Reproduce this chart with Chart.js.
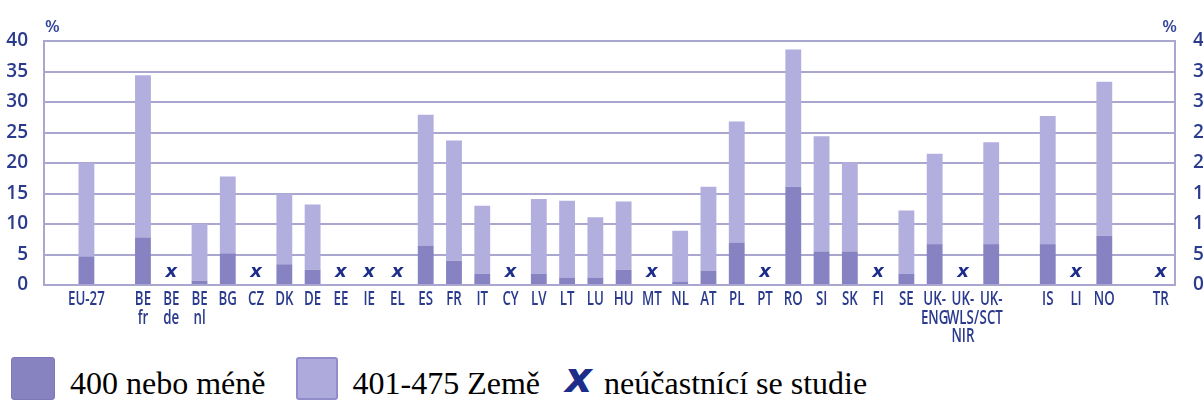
<!DOCTYPE html>
<html>
<head>
<meta charset="utf-8">
<script src="https://cdn.jsdelivr.net/npm/chart.js@4.4.1/dist/chart.umd.min.js"></script>
<style>
    body { margin: 0; background: #ffffff; overflow: hidden; width: 1203px; height: 408px; position: relative; }
    #wrap { position: absolute; left: 0; top: 0; width: 1215px; height: 352px; }
    #legend { position: absolute; left: 11px; top: 357px; display: flex; align-items: flex-end; font-family: "Liberation Serif", "Times New Roman", serif; font-size: 32px; color: #000; white-space: nowrap; }
    .box { width: 44px; height: 43px; border-radius: 3px; box-sizing: border-box; }
    .box.dark { background: #8783c0; border: 1px solid #7d79b8; }
    .box.light { background: #aeabdc; border: 2px solid #918dcb; }
    .lbl { margin-left: 15px; line-height: 34px; }
    .cross { font-family: "DejaVu Sans", sans-serif; font-weight: bold; font-style: italic; color: #1d2d8a; font-size: 42px; line-height: 38px; margin-bottom: 3px; }
</style>
</head>
<body>
<div id="wrap"><canvas id="chart" width="1215" height="352"></canvas></div>
<div id="legend">
    <div class="box dark"></div><span class="lbl">400 nebo méně</span>
    <div class="box light" style="margin-left: 30px; width: 42px;"></div><span class="lbl">401-475 Země</span>
    <span class="cross" style="margin-left: 25px;">x</span><span class="lbl" style="margin-left: 12px;">neúčastnící se studie</span>
</div>
<script>
// categories (empty strings are the gaps between groups)
const countryLabels = [
    '', 'EU-27', '', ['BE', 'fr'], ['BE', 'de'], ['BE', 'nl'], 'BG', 'CZ', 'DK', 'DE',
    'EE', 'IE', 'EL', 'ES', 'FR', 'IT', 'CY', 'LV', 'LT', 'LU',
    'HU', 'MT', 'NL', 'AT', 'PL', 'PT', 'RO', 'SI', 'SK', 'FI',
    'SE', ['UK-', 'ENG'], ['UK-', 'WLS/', 'NIR'], ['UK-', 'SCT'], '', 'IS', 'LI', 'NO', '', 'TR'
];

// share of students scoring 400 or less (dark part)
const below400 = [
    null, 4.7, null, 7.8, null, 0.7, 5.2, null, 3.4, 2.5,
    null, null, null, 6.4, 4.0, 1.8, null, 1.8, 1.2, 1.2,
    2.5, null, 0.5, 2.3, 6.9, null, 16.1, 5.5, 5.5, null,
    1.8, 6.7, null, 6.7, null, 6.7, null, 8.1, null, null
];

// total height of each bar (400 or less + 401-475)
const totalUpTo475 = [
    null, 20.0, null, 34.4, null, 10.0, 17.8, null, 14.9, 13.2,
    null, null, null, 27.9, 23.7, 13.0, null, 14.1, 13.8, 11.1,
    13.7, null, 8.9, 16.1, 26.8, null, 38.6, 24.4, 20.1, null,
    12.2, 21.5, null, 23.4, null, 27.7, null, 33.3, null, null
];

// countries that did not take part (drawn as an x)
const notParticipating = [
    false, false, false, false, true, false, false, true, false, false,
    true, true, true, false, false, false, true, false, false, false,
    false, true, false, false, false, true, false, false, false, true,
    false, false, true, false, false, false, true, false, false, true
];

const yTicks = [0, 5, 10, 15, 20, 25, 30, 35, 40];

const band401to475 = totalUpTo475.map((t, i) => t === null ? null : +(t - below400[i]).toFixed(2));

const axisColor = '#a9a6cf';
const tickColor = '#2a3a8c';
const labelFont = '"Open Sans", "Noto Sans", sans-serif';

// draws the "%" units, the condensed country labels and the x marks
const extrasPlugin = {
    id: 'extras',
    afterDatasetsDraw(chart) {
        const { ctx, chartArea, scales } = chart;
        ctx.save();
        ctx.fillStyle = '#34459a';
        ctx.font = '600 17px ' + labelFont;
        ctx.textBaseline = 'alphabetic';
        ctx.textAlign = 'left';
        ctx.fillText('%', chartArea.left + 1, chartArea.top - 9);
        ctx.textAlign = 'right';
        ctx.fillText('%', chartArea.right + 2, chartArea.top - 9);

        // country labels, squeezed like the condensed face of the original
        ctx.fillStyle = tickColor;
        ctx.font = '600 19px ' + labelFont;
        ctx.textAlign = 'center';
        ctx.textBaseline = 'middle';
        countryLabels.forEach((lab, i) => {
            const lines = Array.isArray(lab) ? lab : [lab];
            const x = scales.x.getPixelForValue(i);
            lines.forEach((line, j) => {
                ctx.save();
                ctx.translate(x, chartArea.bottom + 15 + j * 18.5);
                ctx.scale(0.7, 1);
                ctx.fillText(line, 0, 0);
                ctx.restore();
            });
        });

        ctx.fillStyle = '#1d2d8a';
        ctx.font = 'italic bold 18px "DejaVu Sans", sans-serif';
        const zeroY = scales.y.getPixelForValue(0);
        notParticipating.forEach((flag, i) => {
            if (!flag) return;
            ctx.fillText('x', scales.x.getPixelForValue(i), zeroY - 13);
        });
        ctx.restore();
    }
};

const tickLabel = v => yTicks.includes(v) ? String(v) : '';

new Chart(document.getElementById('chart'), {
    type: 'bar',
    data: {
        labels: countryLabels,
        datasets: [
            {
                label: '400 nebo méně',
                data: below400,
                backgroundColor: '#8782c2',
                barPercentage: 0.56,
                categoryPercentage: 1.0
            },
            {
                label: '401-475 Země',
                data: band401to475,
                backgroundColor: '#b2aedd',
                barPercentage: 0.56,
                categoryPercentage: 1.0
            }
        ]
    },
    options: {
        responsive: false,
        animation: false,
        layout: { padding: { top: 41, left: 0, right: 0, bottom: 0 } },
        plugins: {
            legend: { display: false },
            tooltip: { enabled: false }
        },
        scales: {
            x: {
                stacked: true,
                grid: { display: false, drawTicks: false },
                border: { display: false },
                ticks: { display: false },
                afterFit: s => { s.height = 67; }
            },
            y: {
                stacked: true,
                position: 'left',
                min: 0,
                max: 40,
                grid: { color: axisColor, lineWidth: 2, drawTicks: false },
                border: { display: true, color: axisColor, width: 2 },
                ticks: {
                    stepSize: 5,
                    padding: 16,
                    color: tickColor,
                    font: { family: labelFont, size: 19, weight: '600' },
                    callback: tickLabel
                },
                afterFit: s => { s.width = 44; }
            },
            y2: {
                position: 'right',
                min: 0,
                max: 40,
                grid: { drawOnChartArea: false, drawTicks: false },
                border: { display: true, color: axisColor, width: 2 },
                ticks: {
                    stepSize: 5,
                    padding: 18,
                    color: tickColor,
                    font: { family: labelFont, size: 19, weight: '600' },
                    callback: tickLabel
                },
                afterFit: s => { s.width = 40; }
            }
        }
    },
    plugins: [extrasPlugin]
});
</script>
</body>
</html>
